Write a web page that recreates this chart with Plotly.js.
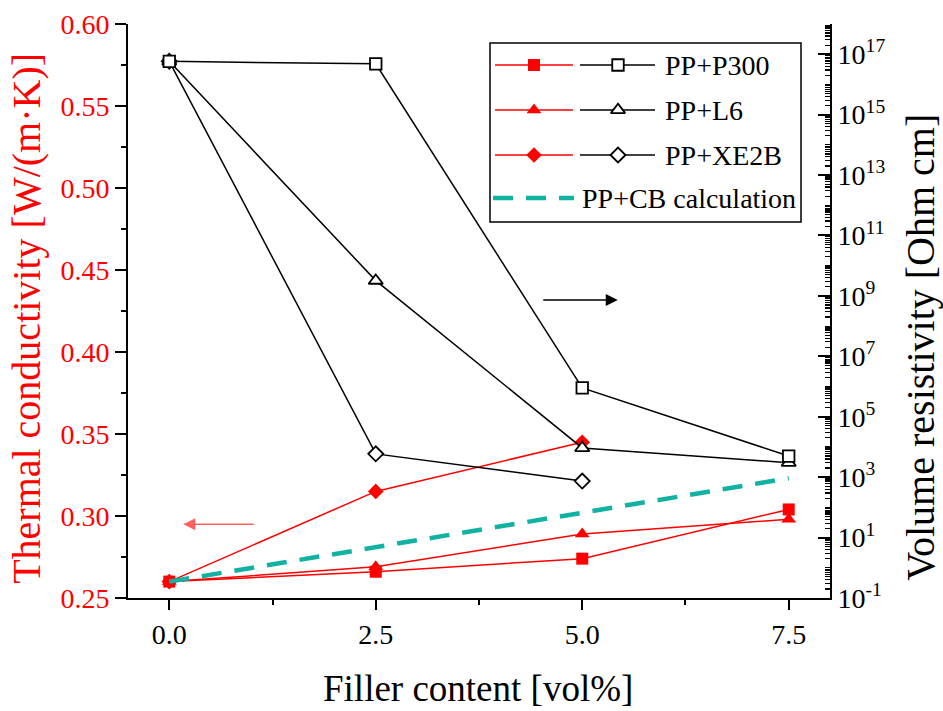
<!DOCTYPE html>
<html><head><meta charset="utf-8">
<script src="https://cdn.plot.ly/plotly-3.0.1.min.js"></script>
<style>html,body{margin:0;padding:0;background:#fff}</style>
</head><body><div id="chart" style="width:943px;height:711px"></div>
<script>
// ---- data ----
const filler = [0, 2.5, 5.0, 7.5];
const fillerXE2B = [0, 2.5, 5.0];
const tcP300 = [0.260, 0.266, 0.274, 0.304];
const tcL6 = [0.260, 0.269, 0.289, 0.298];
const tcXE2B = [0.260, 0.315, 0.345];
const tcCBcalc = [0.260, 0.281, 0.302, 0.323];
const rhoP300 = [5.8e16, 4.8e16, 9.0e5, 5.0e3];
const rhoL6 = [5.8e16, 3.2e9, 9.3e3, 3.0e3];
const rhoXE2B = [5.8e16, 5.9e3, 7.4e2];
const xTickVals = [0, 2.5, 5.0, 7.5];
const xTickText = ['0.0', '2.5', '5.0', '7.5'];
const rhoExponents = [-1, 1, 3, 5, 7, 9, 11, 13, 15, 17];
const legendNames = ['PP+P300', 'PP+L6', 'PP+XE2B', 'PP+CB calculation'];
const xTitle = 'Filler content [vol%]';
const yTitle = 'Thermal conductivity [W/(m·K)]';
const y2Title = 'Volume resistivity [Ohm cm]';

const rhoTickVals = rhoExponents.map(e => Math.pow(10, e));
const rhoTickText = rhoExponents.map(e => '10<sup>' + e + '</sup>');

const RED = '#ff0000', BLK = '#000000', TEAL = '#12b2a2';
const FONT = 'Liberation Serif';

function redTrace(x, y, sym, size) {
  return {x: x, y: y, type: 'scatter', mode: 'lines+markers', xaxis: 'x', yaxis: 'y',
    line: {color: RED, width: 1.5}, marker: {symbol: sym, size: size, color: RED, line: {width: 0}},
    cliponaxis: false, hoverinfo: 'skip'};
}
function blkTrace(x, y, sym, size) {
  return {x: x, y: y, type: 'scatter', mode: 'lines+markers', xaxis: 'x', yaxis: 'y2',
    line: {color: BLK, width: 1.5}, marker: {symbol: sym, size: size, color: '#ffffff', line: {color: BLK, width: 1.8}},
    cliponaxis: false, hoverinfo: 'skip'};
}

const traces = [
  redTrace(filler, tcP300, 'square', 12),
  redTrace(filler, tcL6, 'triangle-up', 13),
  redTrace(fillerXE2B, tcXE2B, 'diamond', 12),
  {x: filler, y: tcCBcalc, type: 'scatter', mode: 'lines', xaxis: 'x', yaxis: 'y',
   line: {color: TEAL, width: 4.5, dash: '20px,13px'}, hoverinfo: 'skip'},
  blkTrace(fillerXE2B, rhoXE2B, 'diamond', 11.5),
  blkTrace(filler, rhoL6, 'triangle-up', 12.5),
  blkTrace(filler, rhoP300, 'square', 11.5)
];

// ---- custom legend (pixel-like overlay axes) ----
const LG = {rows: [65, 110, 155, 198], redX: [495, 573], redM: 534, blkX: [580, 655], blkM: 618, textX: 663};
const redSyms = [['square', 12], ['triangle-up', 13], ['diamond', 12]];
const blkSyms = [['square', 11.5], ['triangle-up', 12.5], ['diamond', 11.5]];
for (let i = 0; i < 3; i++) {
  const yy = LG.rows[i];
  traces.push({x: LG.redX, y: [yy, yy], type: 'scatter', mode: 'lines', xaxis: 'x3', yaxis: 'y3',
    line: {color: RED, width: 1.5}, hoverinfo: 'skip'});
  traces.push({x: [LG.redM], y: [yy], type: 'scatter', mode: 'markers', xaxis: 'x3', yaxis: 'y3',
    marker: {symbol: redSyms[i][0], size: redSyms[i][1], color: RED}, hoverinfo: 'skip'});
  traces.push({x: LG.blkX, y: [yy, yy], type: 'scatter', mode: 'lines', xaxis: 'x3', yaxis: 'y3',
    line: {color: BLK, width: 1.5}, hoverinfo: 'skip'});
  traces.push({x: [LG.blkM], y: [yy], type: 'scatter', mode: 'markers', xaxis: 'x3', yaxis: 'y3',
    marker: {symbol: blkSyms[i][0], size: blkSyms[i][1], color: '#ffffff', line: {color: BLK, width: 1.8}}, hoverinfo: 'skip'});
}
traces.push({x: [493, 574], y: [LG.rows[3], LG.rows[3]], type: 'scatter', mode: 'lines', xaxis: 'x3', yaxis: 'y3',
  line: {color: TEAL, width: 4.5, dash: '20px,13px'}, hoverinfo: 'skip'});

const annotations = [];
for (let i = 0; i < 3; i++) {
  annotations.push({xref: 'x3', yref: 'y3', x: LG.textX, y: LG.rows[i], text: legendNames[i], showarrow: false,
    xanchor: 'left', yanchor: 'middle', font: {family: FONT, size: 28, color: BLK}});
}
annotations.push({xref: 'x3', yref: 'y3', x: 580, y: LG.rows[3], text: legendNames[3], showarrow: false,
  xanchor: 'left', yanchor: 'middle', font: {family: FONT, size: 28, color: BLK}});

// direction arrows
annotations.push({xref: 'x', yref: 'y', x: 0.17, y: 0.295, ax: 72, ay: 0, axref: 'pixel', ayref: 'pixel',
  text: '', showarrow: true, arrowhead: 2, arrowsize: 1.6, arrowwidth: 1.5, arrowcolor: '#ff6060'});
annotations.push({xref: 'x', yref: 'y', x: 5.43, y: 0.4317, ax: -76, ay: 0, axref: 'pixel', ayref: 'pixel',
  text: '', showarrow: true, arrowhead: 2, arrowsize: 1.6, arrowwidth: 1.5, arrowcolor: BLK});

// axis titles
annotations.push({xref: 'paper', yref: 'paper', x: 0.4986, y: -0.158, text: xTitle, showarrow: false,
  xanchor: 'center', yanchor: 'middle', font: {family: FONT, size: 37, color: BLK}});
annotations.push({xref: 'paper', yref: 'paper', x: -0.1439, y: 0.488, text: yTitle, showarrow: false, textangle: -90,
  xanchor: 'center', yanchor: 'middle', font: {family: FONT, size: 40, color: RED}});
annotations.push({xref: 'paper', yref: 'paper', x: 1.129, y: 0.437, text: y2Title, showarrow: false, textangle: -90,
  xanchor: 'center', yanchor: 'middle', font: {family: FONT, size: 40, color: BLK}});

const layout = {
  width: 943, height: 711,
  margin: {l: 128, r: 113, t: 24, b: 113},
  paper_bgcolor: '#ffffff', plot_bgcolor: '#ffffff',
  showlegend: false,
  font: {family: FONT, size: 28, color: BLK},
  xaxis: {range: [-0.5, 8], showgrid: false, zeroline: false, showline: true, linecolor: BLK, linewidth: 2,
    ticks: 'outside', ticklen: 10, tickwidth: 2, tickcolor: BLK, tickmode: 'array', tickvals: xTickVals, ticktext: xTickText,
    tickfont: {family: FONT, size: 28, color: BLK},
    minor: {tickmode: 'linear', tick0: 0, dtick: 1.25, ticks: 'outside', ticklen: 5, tickwidth: 2, tickcolor: BLK, showgrid: false}},
  yaxis: {range: [0.25, 0.60], showgrid: false, zeroline: false, showline: true, linecolor: BLK, linewidth: 2,
    ticks: 'outside', ticklen: 11, tickwidth: 2, tickcolor: BLK, dtick: 0.05, tick0: 0.25, tickformat: '.2f',
    tickfont: {family: FONT, size: 28, color: RED},
    minor: {tickmode: 'linear', tick0: 0.25, dtick: 0.025, ticks: 'outside', ticklen: 5, tickwidth: 2, tickcolor: BLK, showgrid: false}},
  yaxis2: {type: 'log', range: [-1, 18], overlaying: 'y', side: 'right', showgrid: false, zeroline: false,
    showline: true, linecolor: BLK, linewidth: 2, ticks: 'inside', ticklen: 12, tickwidth: 2, tickcolor: BLK,
    tickmode: 'array', tickvals: rhoTickVals, ticktext: rhoTickText,
    tickfont: {family: FONT, size: 28, color: BLK},
    minor: {dtick: 'D1', ticks: 'inside', ticklen: 5, tickwidth: 1.2, tickcolor: BLK, showgrid: false}},
  xaxis3: {range: [128, 830], overlaying: 'x', visible: false, fixedrange: true},
  yaxis3: {range: [598, 24], overlaying: 'y', visible: false, fixedrange: true},
  shapes: [{type: 'rect', xref: 'x3', yref: 'y3', x0: 490, x1: 801, y0: 43, y1: 222,
    line: {color: BLK, width: 1.5}, fillcolor: 'rgba(0,0,0,0)', layer: 'below'}],
  annotations: annotations
};

Plotly.newPlot('chart', traces, layout, {staticPlot: true, displayModeBar: false});
</script></body></html>
